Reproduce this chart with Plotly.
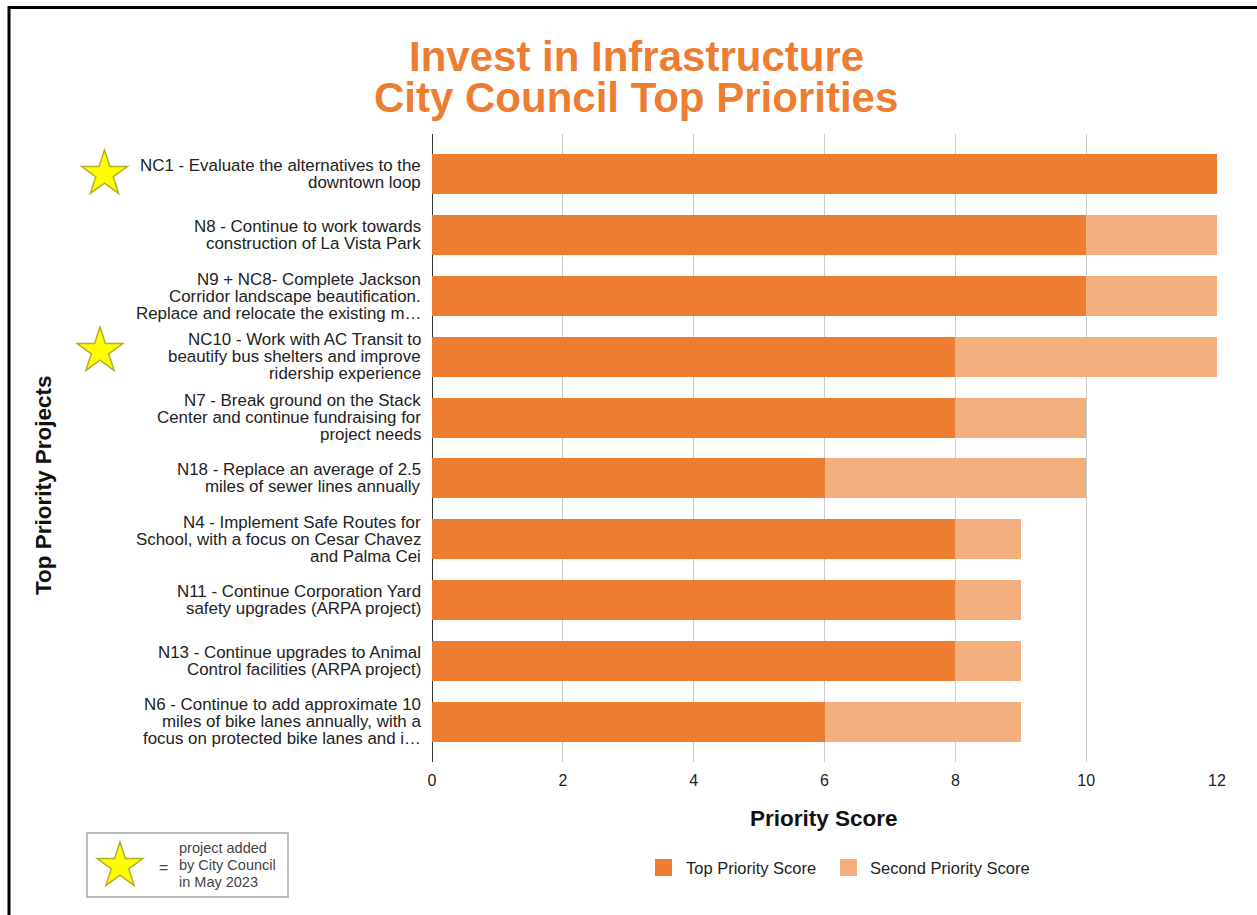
import math
import plotly.graph_objects as go

# ---- data -------------------------------------------------------------
projects = ["NC1", "N8", "N9 + NC8", "NC10", "N7", "N18", "N4", "N11", "N13", "N6"]
label_lines = [
    ["NC1 - Evaluate the alternatives to the", "downtown loop"],
    ["N8 - Continue to work towards", "construction of La Vista Park"],
    ["N9 + NC8- Complete Jackson", "Corridor landscape beautification.", "Replace and relocate the existing m\u2026"],
    ["NC10 - Work with AC Transit to", "beautify bus shelters and improve", "ridership experience"],
    ["N7 - Break ground on the Stack", "Center and continue fundraising for", "project needs"],
    ["N18 - Replace an average of 2.5", "miles of sewer lines annually"],
    ["N4 - Implement Safe Routes for", "School, with a focus on Cesar Chavez", "and Palma Cei"],
    ["N11 - Continue Corporation Yard", "safety upgrades (ARPA project)"],
    ["N13 - Continue upgrades to Animal", "Control facilities (ARPA project)"],
    ["N6 - Continue to add approximate 10", "miles of bike lanes annually, with a", "focus on protected bike lanes and i\u2026"],
]
top_priority = [12, 10, 10, 8, 8, 6, 8, 8, 8, 6]
second_priority = [0, 2, 2, 4, 2, 4, 1, 1, 1, 3]
council_added = ["NC1", "NC10"]
x_ticks = [0, 2, 4, 6, 8, 10, 12]
series_names = ["Top Priority Score", "Second Priority Score"]
key_lines = ["project added", "by City Council", "in May 2023"]

# ---- layout geometry (pixels) ------------------------------------------
W, H = 1257, 915
PL, PR, PT, PB = 432, 1217, 134, 762
FONT = "Liberation Sans, Arial, sans-serif"
ORANGE = "#ED7D31"
LIGHT = "#F3AF7D"


def px(x):
    return (x - PL) / (PR - PL)


def py(y):
    return (PB - y) / (PB - PT)


def star_path(cx, cy, r, ratio=0.382):
    pts = []
    for k in range(10):
        ang = math.radians(-90 + 36 * k)
        rr = r if k % 2 == 0 else r * ratio
        pts.append((px(cx + rr * math.cos(ang)), py(cy + rr * math.sin(ang))))
    return "M " + " L ".join(f"{a:.5f},{b:.5f}" for a, b in pts) + " Z"


fig = go.Figure()
fig.add_trace(go.Bar(y=projects, x=top_priority, orientation="h", name=series_names[0],
                     marker=dict(color=ORANGE, line=dict(width=0)), showlegend=False))
fig.add_trace(go.Bar(y=projects, x=second_priority, orientation="h", name=series_names[1],
                     marker=dict(color=LIGHT, line=dict(width=0)), showlegend=False))

annotations = []
# project labels, one annotation per line for tight line spacing
for cat, lines in zip(projects, label_lines):
    n = len(lines)
    for i, line in enumerate(lines):
        annotations.append(dict(
            x=px(423), xref="paper", xanchor="right",
            y=cat, yref="y", yanchor="middle",
            yshift=-(i - (n - 1) / 2) * 17,
            text=line, showarrow=False,
            font=dict(family=FONT, size=16.9, color="#222222"),
        ))

# title
annotations.append(dict(x=px(636), y=py(56.5), xref="paper", yref="paper", showarrow=False,
                        text="<b>Invest in Infrastructure</b>", xanchor="center", yanchor="middle",
                        font=dict(family=FONT, size=42, color=ORANGE)))
annotations.append(dict(x=px(636), y=py(97.5), xref="paper", yref="paper", showarrow=False,
                        text="<b>City Council Top Priorities</b>", xanchor="center", yanchor="middle",
                        font=dict(family=FONT, size=42, color=ORANGE)))
# axis titles
annotations.append(dict(x=px(824), y=py(818), xref="paper", yref="paper", showarrow=False,
                        text="<b>Priority Score</b>", xanchor="center", yanchor="middle",
                        font=dict(family=FONT, size=22.5, color="#111111")))
annotations.append(dict(x=px(43), y=py(485), xref="paper", yref="paper", showarrow=False,
                        text="<b>Top Priority Projects</b>", textangle=-90,
                        xanchor="center", yanchor="middle",
                        font=dict(family=FONT, size=22.5, color="#111111")))

shapes = []
# series key
for (x0, tx), name, col in zip([(655, 684), (840, 868)], series_names, [ORANGE, LIGHT]):
    shapes.append(dict(type="rect", xref="paper", yref="paper",
                       x0=px(x0), x1=px(x0 + 17), y0=py(876), y1=py(859),
                       fillcolor=col, line=dict(width=0)))
    annotations.append(dict(x=px(tx), y=py(867.5), xref="paper", yref="paper", showarrow=False,
                            text=name, xanchor="left", yanchor="middle",
                            font=dict(family=FONT, size=16.5, color="#222222")))

# stars next to council-added projects
star_centres = {"NC1": (104.5, 174), "NC10": (100, 351)}
for code in council_added:
    cx, cy = star_centres[code]
    shapes.append(dict(type="path", xref="paper", yref="paper", path=star_path(cx, cy, 24),
                       fillcolor="#FFFF00", line=dict(color="#B5AE28", width=1.5)))

# star key box
shapes.append(dict(type="rect", xref="paper", yref="paper",
                   x0=px(87), x1=px(288), y0=py(897), y1=py(833),
                   fillcolor="white", line=dict(color="#BBBBBB", width=2)))
shapes.append(dict(type="path", xref="paper", yref="paper", path=star_path(120, 866, 24),
                   fillcolor="#FFFF00", line=dict(color="#B5AE28", width=1.5)))
annotations.append(dict(x=px(163), y=py(867), xref="paper", yref="paper", showarrow=False,
                        text="=", xanchor="center", yanchor="middle",
                        font=dict(family=FONT, size=16, color="#444444")))
for i, line in enumerate(key_lines):
    annotations.append(dict(x=px(177), y=py(848 + 17 * i), xref="paper", yref="paper",
                            showarrow=False, text=line, xanchor="left", yanchor="middle",
                            font=dict(family=FONT, size=14.5, color="#444444")))

# page frame lines
shapes.append(dict(type="line", xref="paper", yref="paper", x0=px(8), x1=px(1257),
                   y0=py(7.5), y1=py(7.5), line=dict(color="black", width=3)))
shapes.append(dict(type="line", xref="paper", yref="paper", x0=px(9), x1=px(9),
                   y0=py(6), y1=py(915), line=dict(color="black", width=3)))

fig.update_layout(
    width=W, height=H,
    margin=dict(l=PL, r=W - PR, t=PT, b=H - PB),
    paper_bgcolor="white", plot_bgcolor="white",
    barmode="stack", bargap=0.342,
    showlegend=False,
    font=dict(family=FONT, color="#222222"),
    xaxis=dict(range=[0, 12], tickvals=x_ticks, showgrid=True, gridcolor="#CCCCCC", gridwidth=1,
               zeroline=True, zerolinecolor="#333333", zerolinewidth=1,
               showline=False, ticks="", ticklabelstandoff=7,
               tickfont=dict(family=FONT, size=16, color="#222222"), fixedrange=True),
    yaxis=dict(type="category", categoryorder="array", categoryarray=projects,
               range=[9.665, -0.665], showticklabels=False, showgrid=False,
               zeroline=False, showline=False, ticks="", fixedrange=True),
    annotations=annotations,
    shapes=shapes,
)

fig.write_html("out.html")
